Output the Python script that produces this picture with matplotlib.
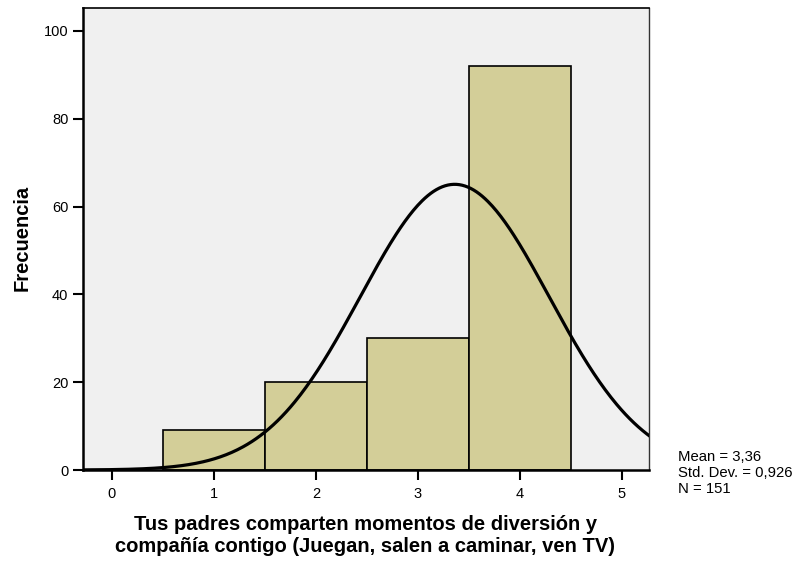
import numpy as np
import matplotlib
matplotlib.use("Agg")
import matplotlib.pyplot as plt

plt.rcParams['font.family'] = ['Liberation Sans', 'DejaVu Sans']

# histogram data (category value -> count)
categories = [1, 2, 3, 4]
counts = [9, 20, 30, 92]
mean_val = 3.36
std_val = 0.926
n_total = 151

fig = plt.figure(figsize=(7.96, 5.61), dpi=100)
ax = fig.add_axes([0.1043, 0.1622, 0.711, 0.8235])
ax.set_facecolor('#f0f0f0')

ax.bar(categories, counts, width=1.0, color='#d3ce98', edgecolor='black', linewidth=1.2, zorder=2)

# normal curve scaled to counts
xs = np.linspace(-0.3, 5.3, 400)
ys = n_total * 1.0 / (std_val * np.sqrt(2 * np.pi)) * np.exp(-0.5 * ((xs - mean_val) / std_val) ** 2)
ax.plot(xs, ys, color='black', linewidth=2.3, zorder=3)

ax.set_xlim(-0.284, 5.265)
ax.set_ylim(0, 105.2)
ax.set_xticks([0, 1, 2, 3, 4, 5])
ax.set_yticks([0, 20, 40, 60, 80, 100])
ax.tick_params(axis='both', length=7.5, width=1.5, labelsize=10.5, color='black', pad=3)
ax.tick_params(axis='x', pad=5)

for side in ['left', 'bottom']:
    ax.spines[side].set_linewidth(1.8)
ax.spines['top'].set_linewidth(1.2)
ax.spines['right'].set_linewidth(1.0)
ax.spines['right'].set_color('#333333')

fig.text(0.028, 0.575, 'Frecuencia', rotation=90, fontsize=14.5, fontweight='bold',
         ha='center', va='center')
fig.text(0.459, 0.046, 'Tus padres comparten momentos de diversión y\ncompañía contigo (Juegan, salen a caminar, ven TV)',
         fontsize=14.5, fontweight='bold', ha='center', va='center', linespacing=1.2)

fig.text(0.852, 0.197, 'Mean = 3,36\nStd. Dev. = 0,926\nN = 151',
         fontsize=10.7, ha='left', va='top', linespacing=1.15)

fig.savefig('out.png', dpi=100)
